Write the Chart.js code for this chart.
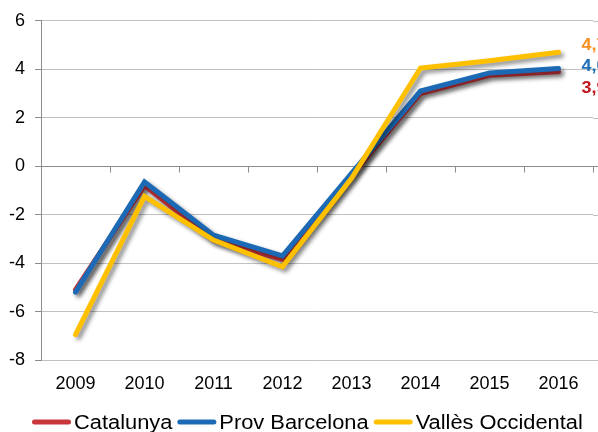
<!DOCTYPE html>
<html>
<head>
<meta charset="utf-8">
<script src="https://cdn.jsdelivr.net/npm/chart.js@4.4.1/dist/chart.umd.min.js"></script>
<style>
html,body{margin:0;padding:0;background:#fff;}
#wrap{width:598px;height:432px;position:relative;}
</style>
</head>
<body>
<div id="wrap"><canvas id="c" width="598" height="432"></canvas></div>
<script>
const years = ['2009','2010','2011','2012','2013','2014','2015','2016'];
const catalunya = [-5.1, -0.8, -3.05, -3.85, -0.4, 3.0, 3.75, 3.9];
const provBarcelona = [-5.2, -0.65, -2.85, -3.7, -0.3, 3.1, 3.85, 4.03];
const vallesOccidental = [-6.95, -1.25, -3.05, -4.15, -0.5, 4.05, 4.35, 4.7];
const seriesNames = ['Catalunya', 'Prov Barcelona', 'Vallès Occidental'];
const endLabels = ['3,9', '4,0', '4,7'];
const yTicks = [-8, -6, -4, -2, 0, 2, 4, 6];

const colors = ['#C8353B', '#1C6AB5', '#FFC000'];
const labelColors = ['#C0141C', '#1F6EB8', '#F7901E'];
const FONT = '"Liberation Sans", Arial, sans-serif';

const shadowPlugin = {
  id: 'shadow',
  beforeDatasetDraw(chart) {
    const ctx = chart.ctx;
    ctx.save();
    ctx.shadowColor = 'rgba(0,0,0,0.45)';
    ctx.shadowBlur = 4;
    ctx.shadowOffsetX = 3;
    ctx.shadowOffsetY = 3;
  },
  afterDatasetDraw(chart) {
    chart.ctx.restore();
  }
};

function stretchedText(ctx, text, x, y, sx) {
  ctx.save();
  ctx.translate(x, y);
  ctx.scale(sx, 1);
  ctx.fillText(text, 0, 0);
  ctx.restore();
  return ctx.measureText(text).width * sx;
}

const decoPlugin = {
  id: 'deco',
  beforeDatasetsDraw(chart) {
    const ctx = chart.ctx;
    const a = chart.chartArea;
    const y = chart.scales.y;
    ctx.save();
    ctx.strokeStyle = '#C0C0C0';
    ctx.lineWidth = 1;
    yTicks.forEach(v => {
      const py = Math.round(y.getPixelForValue(v)) + 0.5;
      ctx.beginPath();
      ctx.moveTo(a.right, py);
      ctx.lineTo(chart.width, py);
      ctx.stroke();
    });
    const y0 = Math.round(y.getPixelForValue(0)) + 0.5;
    ctx.strokeStyle = '#8C8C8C';
    ctx.beginPath();
    ctx.moveTo(a.left, y0);
    ctx.lineTo(chart.width, y0);
    ctx.stroke();
    const band = (a.right - a.left) / years.length;
    for (let i = 1; i <= years.length; i++) {
      const px = Math.round(a.left + i * band) + 0.5;
      ctx.beginPath();
      ctx.moveTo(px, y0);
      ctx.lineTo(px, y0 + 6);
      ctx.stroke();
    }
    ctx.restore();
  },
  afterDraw(chart) {
    const ctx = chart.ctx;
    ctx.save();
    ctx.font = 'bold 16px ' + FONT;
    ctx.textBaseline = 'middle';
    ctx.textAlign = 'left';
    const lastX = chart.scales.x.getPixelForValue(years.length - 1);
    const labelY = [89, 67, 46];
    [0, 1, 2].forEach(i => {
      ctx.fillStyle = labelColors[i];
      stretchedText(ctx, endLabels[i], lastX + 23, labelY[i], 1.12);
    });
    // legend
    ctx.font = '19.5px ' + FONT;
    ctx.textBaseline = 'alphabetic';
    const lineLen = 39, gapLT = 3, gapItem = 5;
    let cx = 32;
    const ly = 422;
    seriesNames.forEach((n, i) => {
      ctx.strokeStyle = colors[i];
      ctx.lineWidth = 5;
      ctx.lineCap = 'round';
      ctx.beginPath();
      ctx.moveTo(cx + 2.5, ly);
      ctx.lineTo(cx + lineLen - 2.5, ly);
      ctx.stroke();
      ctx.fillStyle = '#000';
      const w = stretchedText(ctx, n, cx + lineLen + gapLT, 429, 1.12);
      cx += lineLen + gapLT + w + gapItem;
    });
    ctx.restore();
  }
};

const datasets = [catalunya, provBarcelona, vallesOccidental].map((d, i) => ({
  label: seriesNames[i],
  data: d,
  borderColor: colors[i],
  backgroundColor: colors[i],
  borderWidth: 5,
  pointRadius: 0,
  pointHoverRadius: 0,
  tension: 0,
  fill: false,
  borderCapStyle: 'round',
  borderJoinStyle: 'miter',
  order: 3 - i
}));

new Chart(document.getElementById('c'), {
  type: 'line',
  data: { labels: years, datasets },
  options: {
    responsive: false,
    animation: false,
    devicePixelRatio: 1,
    layout: { padding: { top: 20, right: 5, left: 0, bottom: 0 } },
    plugins: { legend: { display: false }, tooltip: { enabled: false } },
    scales: {
      x: {
        offset: true,
        grid: { display: false, drawTicks: false },
        border: { display: false },
        ticks: { color: '#000', font: { family: FONT, size: 18 }, padding: 13, maxRotation: 0 },
        afterFit(s) { s.height = 72; }
      },
      y: {
        min: -8, max: 6,
        afterBuildTicks(s) { s.ticks = yTicks.map(v => ({ value: v })); },
        grid: { color: '#C0C0C0', tickLength: 6, tickColor: '#8C8C8C' },
        border: { color: '#8C8C8C' },
        ticks: { color: '#000', font: { family: FONT, size: 18 }, padding: 10 },
        afterFit(s) { s.width = 41; }
      }
    }
  },
  plugins: [shadowPlugin, decoPlugin]
});
</script>
</body>
</html>
